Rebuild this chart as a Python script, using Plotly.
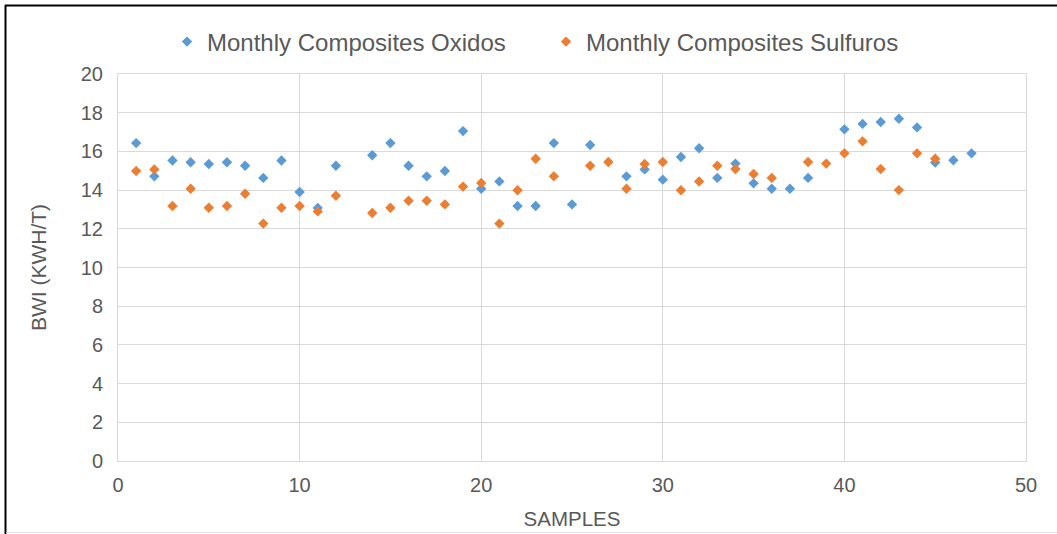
import plotly.graph_objects as go

samples = list(range(1, 48))

oxidos = [16.43, 14.71, 15.53, 15.44, 15.35, 15.44, 15.26, 14.63, 15.53, 13.90,
          13.08, 15.26, None, 15.80, 16.43, 15.26, 14.71, 14.99, 17.05, 14.07,
          14.45, 13.18, 13.18, 16.43, 13.26, 16.33, None, 14.71, 15.07, 14.54,
          15.71, 16.16, 14.63, 15.37, 14.35, 14.07, 14.07, 14.63, None, 17.14,
          17.42, 17.52, 17.69, 17.24, 15.42, 15.54, 15.90]

sulfuros = [14.99, 15.07, 13.18, 14.07, 13.09, 13.18, 13.81, 12.27, 13.09, 13.18,
            12.90, 13.71, None, 12.82, 13.09, 13.45, 13.45, 13.26, 14.18, 14.37,
            12.27, 13.99, 15.62, 14.71, None, 15.26, 15.45, 14.07, 15.35, 15.45,
            13.99, 14.45, 15.26, 15.09, 14.83, 14.63, None, 15.45, 15.37, 15.90,
            16.52, 15.09, 14.00, 15.90, 15.62, None, None]

x_ticks = [0, 10, 20, 30, 40, 50]
y_ticks = [0, 2, 4, 6, 8, 10, 12, 14, 16, 18, 20]

FONT = "Liberation Sans, Arial, sans-serif"
GRID = "#d9d9d9"
TXT = "#595959"

fig = go.Figure()
fig.add_trace(go.Scatter(x=samples, y=oxidos, mode="markers",
                         name="Monthly Composites Oxidos",
                         marker=dict(symbol="diamond", size=8, color="#5B9BD5")))
fig.add_trace(go.Scatter(x=samples, y=sulfuros, mode="markers",
                         name="Monthly Composites Sulfuros",
                         marker=dict(symbol="diamond", size=8, color="#ED7D31")))

L, R, T, B = 118, 31, 74, 73
W, H = 1057, 534
pw, ph = W - L - R, H - T - B

def px(xp):
    return (xp - L) / pw

def py(yp):
    return (H - B - yp) / ph

fig.update_layout(
    width=W, height=H,
    margin=dict(l=L, r=R, t=T, b=B, autoexpand=False),
    paper_bgcolor="white", plot_bgcolor="white",
    font=dict(family=FONT, color=TXT, size=20),
    showlegend=True,
    legend=dict(orientation="h", x=0.5 - 26 / pw, xanchor="center", y=py(42), yanchor="middle",
                font=dict(size=24, color=TXT), itemwidth=30,
                entrywidth=334, entrywidthmode="pixels"),
    xaxis=dict(range=[0, 50], tickvals=x_ticks, showgrid=True, gridcolor=GRID, gridwidth=1,
               zeroline=False, showline=True, linecolor=GRID, mirror=True, automargin=False,
               ticks="", ticklabelstandoff=6, tickfont=dict(size=20, color=TXT),
               title=dict(text="SAMPLES", font=dict(size=20.5, color=TXT), standoff=16)),
    yaxis=dict(range=[0, 20], tickvals=y_ticks, showgrid=True, gridcolor=GRID, gridwidth=1,
               zeroline=False, showline=True, linecolor=GRID, mirror=True, automargin=False,
               ticks="", ticklabelstandoff=10, tickfont=dict(size=20, color=TXT),
               title=dict(text="BWI (KWH/T)", font=dict(size=21, color=TXT), standoff=28)),
    shapes=[
        dict(type="line", xref="paper", yref="paper", x0=px(5), x1=px(1057), y0=py(5.5), y1=py(5.5),
             line=dict(color="black", width=2)),
        dict(type="line", xref="paper", yref="paper", x0=px(5.5), x1=px(5.5), y0=py(5), y1=py(534),
             line=dict(color="black", width=2)),
        dict(type="line", xref="paper", yref="paper", x0=px(6), x1=px(1057), y0=py(532.5), y1=py(532.5),
             line=dict(color="#e0e0e0", width=1)),
    ],
)

fig.write_html("out.html", config={"displayModeBar": False},
               post_script="document.body.style.margin='0';document.body.style.overflow='hidden';")
